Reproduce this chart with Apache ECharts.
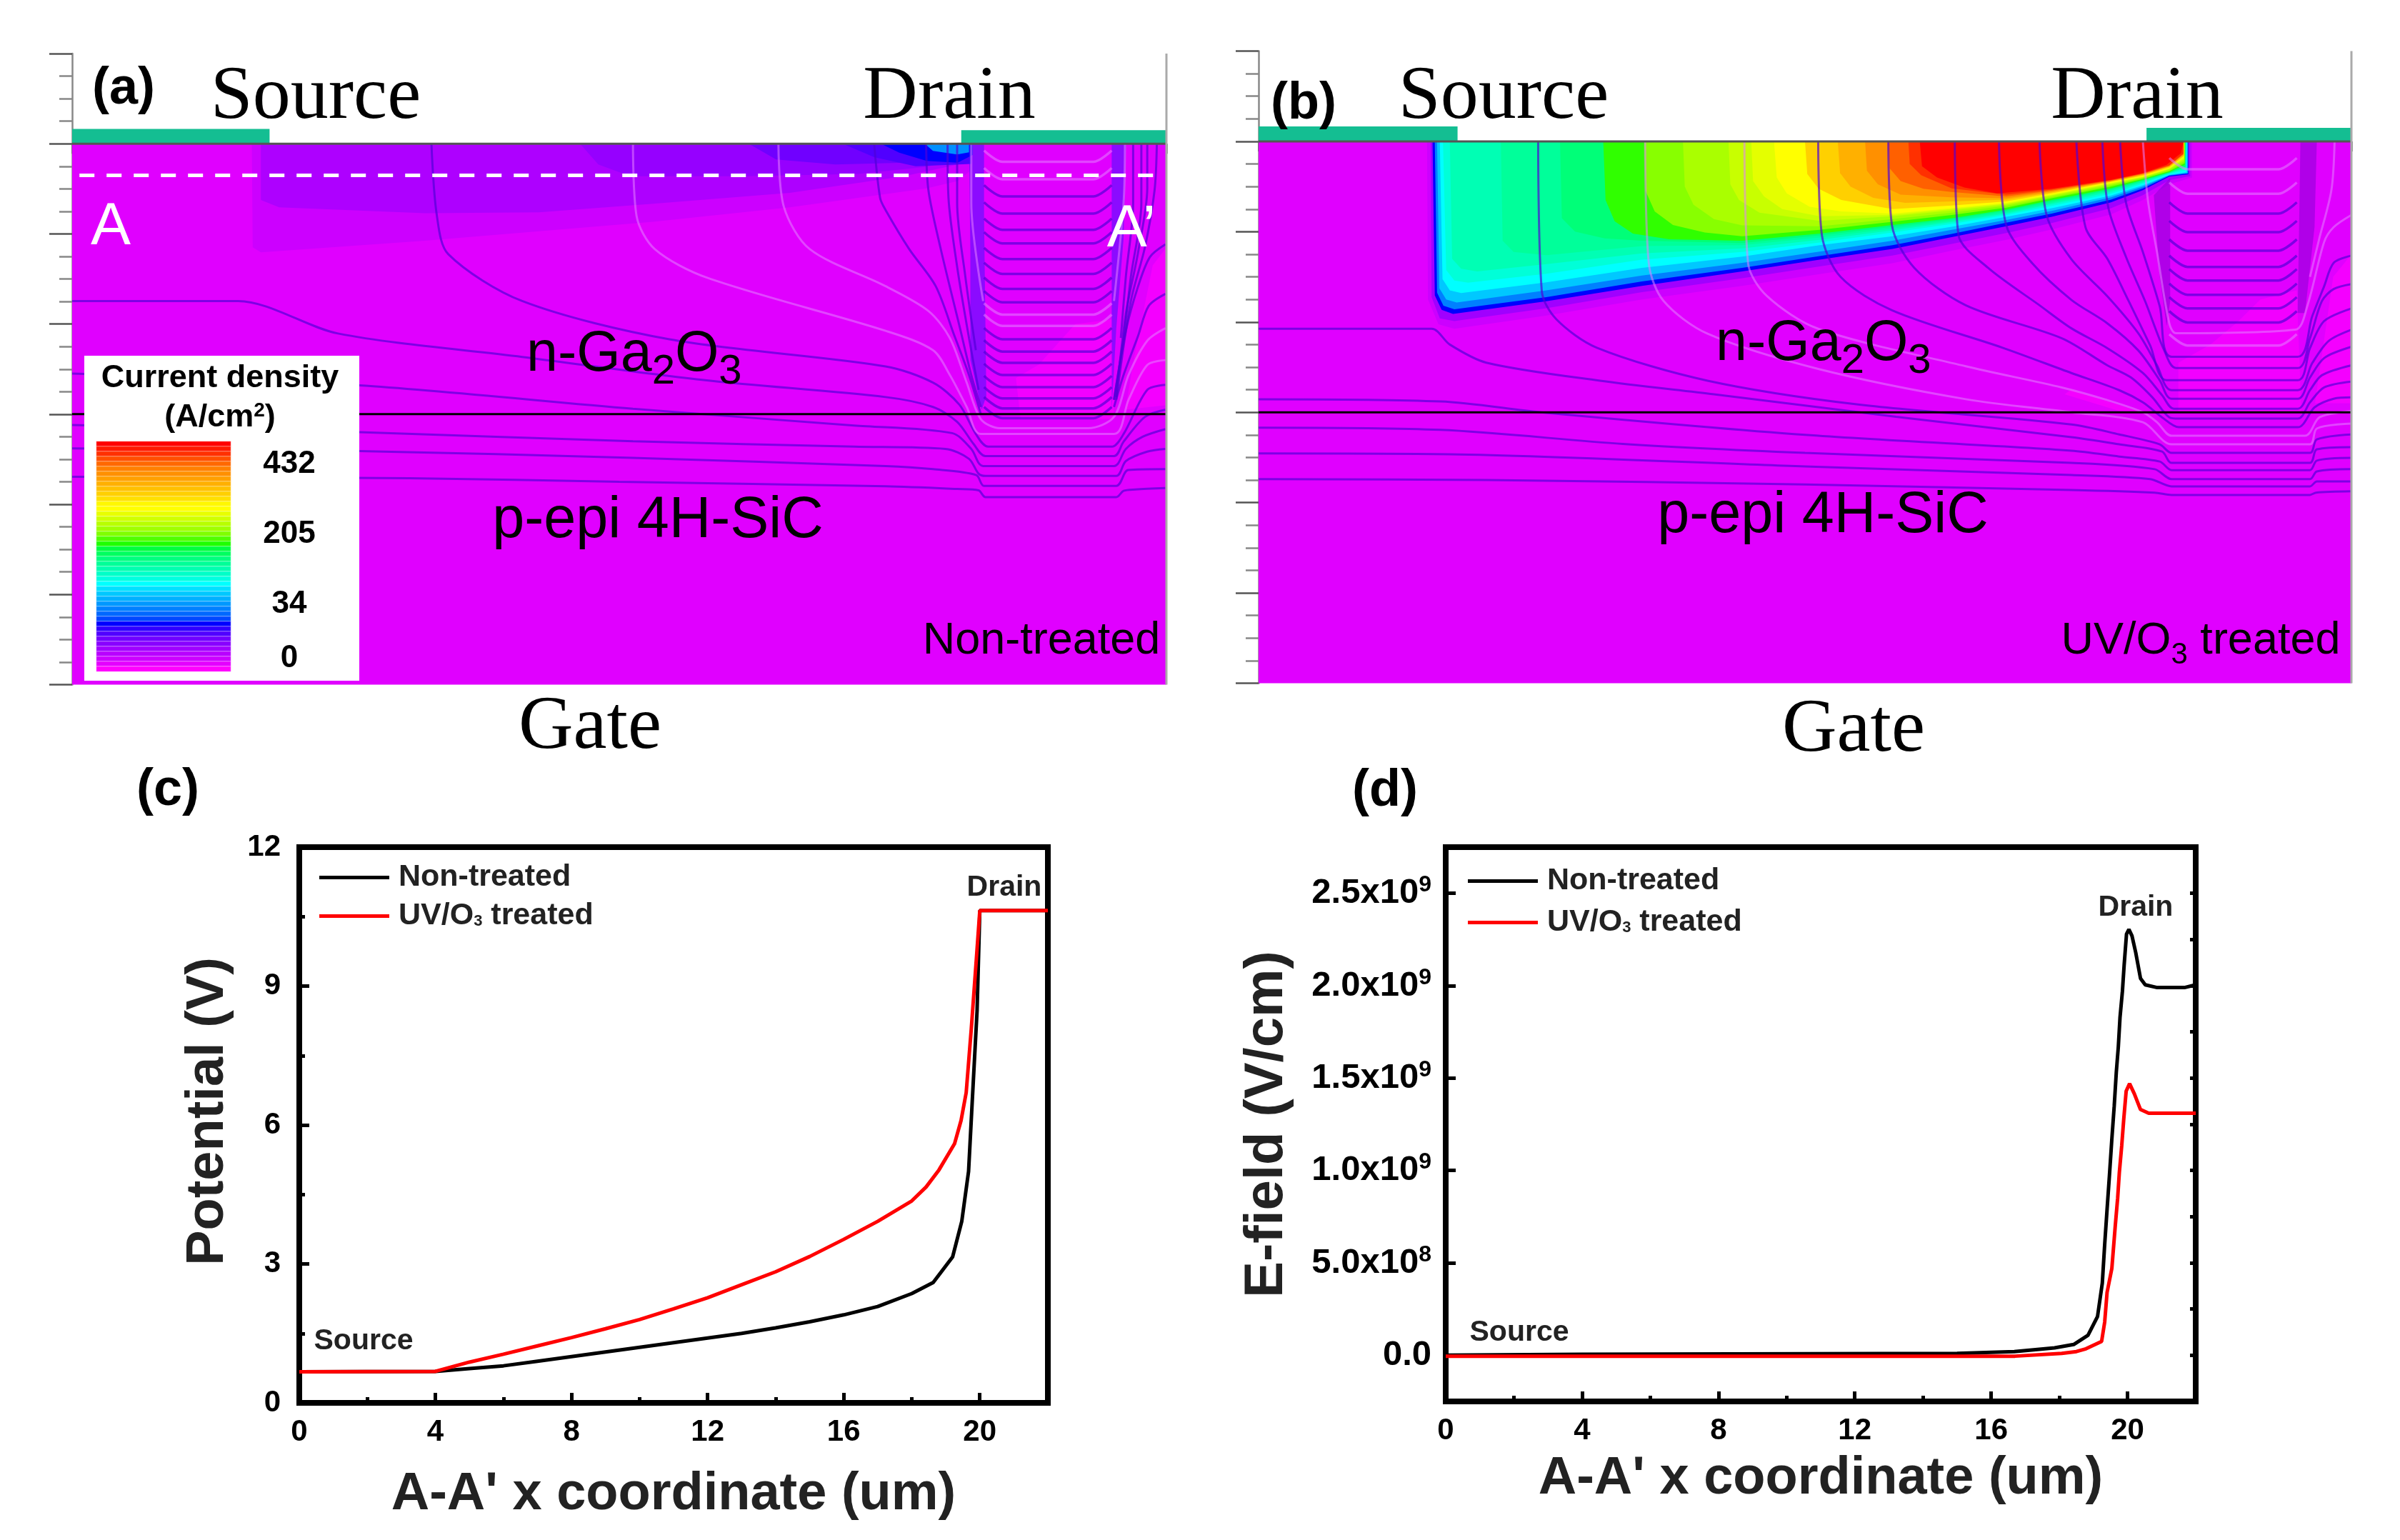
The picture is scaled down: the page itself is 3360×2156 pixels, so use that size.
<!DOCTYPE html>
<html><head><meta charset="utf-8">
<style>html,body{margin:0;padding:0;background:#fff}#c{width:3360px;height:2156px}</style>
<script src="https://cdn.jsdelivr.net/npm/echarts@6/dist/echarts.min.js"></script>
</head><body><div id="c"></div>
<script>
// ---------- line plots (c) potential, V
const potNonX=[0,4,5,6,7,8,9,10,11,12,13,14,15,16,17,18,18.63,19.2,19.47,19.67,19.78,19.92,20,22];
const potNonY=[.67,.68,.74,.8,.9,1.0,1.1,1.2,1.3,1.4,1.5,1.62,1.75,1.9,2.08,2.36,2.6,3.15,3.92,5.0,6.54,8.47,10.63,10.63];
const potUvX=[0,4,5,6,7,8,9,10,11,12,13,14,15,16,17,18,18.42,18.8,19.26,19.45,19.6,19.75,19.9,20,22];
const potUvY=[.67,.68,.88,1.05,1.23,1.41,1.6,1.8,2.03,2.27,2.55,2.83,3.16,3.53,3.92,4.36,4.66,5.03,5.6,6.1,6.7,8.08,9.6,10.63,10.63];
// ---------- line plots (d) E-field, V/cm
const efNonX=[0,4,15,16.68,17.86,18.42,18.84,19.12,19.26,19.33,19.4,19.47,19.54,19.61,19.67,19.73,19.78,19.85,19.9,19.97,20.04,20.13,20.24,20.38,20.52,20.87,21.67,22];
const efNonY=[0,.005,.01,.02,.04,.058,.108,.21,.39,.6,.79,.975,1.17,1.35,1.53,1.67,1.83,1.97,2.11,2.28,2.305,2.27,2.18,2.04,2.005,1.99,1.99,2.005];
const efUvX=[0,16.7,18.07,18.5,18.78,19.24,19.33,19.4,19.54,19.64,19.71,19.76,19.83,19.89,19.96,20.06,20.2,20.38,20.62,22];
const efUvY=[-.005,-.005,.01,.02,.035,.075,.18,.34,.47,.7,.85,.99,1.135,1.28,1.43,1.47,1.415,1.33,1.31,1.31];
const efMajor=[0,.5,1,1.5,2,2.5];
const efLabels=['0.0','5.0x10{s|8}','1.0x10{s|9}','1.5x10{s|9}','2.0x10{s|9}','2.5x10{s|9}'];
const seriesNames=['Non-treated','UV/O3 treated'];
const barColors=['#FF0000','#FF1A00','#FF3000','#FF5000','#FF6800','#FF8000','#FF9000','#FFA000','#FFB000','#FFC000','#FFD000','#FFE000','#FFF800','#FFFF00','#E8FF00','#D0FF00','#B8FF00','#A0FF00','#80FF00','#50FF00','#20FF00','#00FF40','#00FF60','#00FF80','#00FF98','#00FFB0','#00FFC8','#00FFE0','#00FFFF','#00E0FF','#00C8FF','#00B0FF','#0098FF','#0080FF','#0068FF','#0048FF','#0000FF','#3000FF','#5000FF','#7000FF','#8800FF','#A000FF','#B800FF','#CC00FF','#E400FF','#FF00FF'];
const MAG='#E000FF', TEAL='#14BE92';
// ---------- field (a): regions in device coordinates [x, depth]
const fieldA=[
 [MAG,[[0,0],[24,0],[24,12],[0,12]]],
 ['#CC00FF',[[3.94,0],[3.96,2.3],[4.14,2.41],[7.74,2.15],[12.74,1.73],[15.74,1.41],[18.74,.99],[19.42,.83],[19.7,.6],[19.7,0]]],
 ['#AE00FF',[[4.14,0],[4.14,1.25],[4.54,1.41],[7.74,1.54],[10.24,1.52],[12.74,1.33],[15.74,1.09],[18.24,.72],[19.7,.4],[19.7,0]]],
 ['#9600FF',[[11.14,0],[11.54,.46],[12.24,.72],[14.74,.72],[17.24,.67],[18.74,.51],[19.7,.3],[19.7,0]]],
 ['#7000FF',[[14.84,0],[15.44,.35],[16.74,.46],[18.74,.41],[19.7,.28],[19.7,0]]],
 ['#5000FF',[[16.9,0],[17.6,.3],[18.5,.5],[19.72,.45],[19.72,0]]],
 ['#0000FF',[[17.74,0],[18.14,.2],[18.74,.38],[19.42,.42],[19.75,.25],[19.75,0]]],
 ['#0090FF',[[18.7,0],[18.88,.16],[19.41,.24],[19.67,.19],[19.67,0]]],
 ['#F200FF',[[22,4.0],[22.8,3.9],[22.85,6.1],[20.8,6.1],[20.7,5.2],[21.2,4.9]]],
 ['#F400FF',[[23.1,5.9],[23.3,4.7],[23.7,2.7],[24,2.3],[24,5.8]]],
 ['rgba(70,20,255,.55)',[[19.67,0],[20,0],[20,1.6],[20.05,5.6],[19.95,5.9],[19.7,4.8],[19.7,2.4]]],
 ['rgba(70,20,255,.55)',[[22.8,0],[23.11,0],[23.06,2.1],[22.9,4.1],[22.8,5.9]]],
 [TEAL,[[0,-.33],[4.33,-.33],[4.33,0],[0,0]]],
 [TEAL,[[19.5,-.3],[24,-.3],[24,0],[19.5,0]]]
];
// ---------- field (b)
const fieldB=[
 [MAG,[[0,0],[24,0],[24,12],[0,12]]],
 ['#CC00FF',[[3.7,0],[3.72,3.5],[3.95,4.05],[4.3,4.15],[6.3,3.86],[8.42,3.5],[10.62,3.2],[12.32,2.94],[13.92,2.7],[15.22,2.42],[16.42,2.18],[17.42,1.95],[18.72,1.62],[19.42,1.3],[20,.95],[20.5,.8],[20.5,0]]],
 ['#A000FF',[[3.78,0],[3.8,3.45],[3.98,3.92],[4.3,3.98],[6.3,3.7],[8.42,3.34],[10.62,3.03],[12.32,2.77],[13.92,2.53],[15.22,2.27],[16.42,2.03],[17.42,1.81],[18.72,1.48],[19.42,1.19],[20,.86],[20.46,.77],[20.46,0]]],
 ['#0000FF',[[3.82,0],[3.87,3.41],[4.02,3.73],[4.27,3.82],[6.32,3.54],[8.42,3.2],[10.62,2.88],[12.32,2.62],[13.92,2.38],[15.22,2.12],[16.42,1.88],[17.42,1.67],[18.72,1.35],[19.42,1.08],[20,.78],[20.42,.73],[20.42,0]]],
 ['#0080FF',[[3.87,0],[3.92,3.35],[4.06,3.64],[4.3,3.72],[6.32,3.45],[8.42,3.1],[10.62,2.8],[12.32,2.54],[13.92,2.3],[15.22,2.05],[16.42,1.8],[17.42,1.6],[18.72,1.29],[19.42,1.04],[20,.76],[20.41,.71],[20.41,0]]],
 ['#00C8FF',[[3.92,0],[3.97,3.25],[4.12,3.5],[4.35,3.57],[6.32,3.3],[8.42,2.97],[10.62,2.69],[12.32,2.44],[13.92,2.2],[15.22,1.96],[16.42,1.74],[17.42,1.54],[18.72,1.24],[19.42,1.0],[20,.75],[20.4,.7],[20.4,0]]],
 ['#00FFFF',[[3.98,0],[4.04,3.05],[4.2,3.3],[4.45,3.36],[6.32,3.12],[8.42,2.8],[10.62,2.55],[12.32,2.3],[13.92,2.1],[15.22,1.89],[16.42,1.67],[17.42,1.48],[18.72,1.2],[19.42,.97],[20,.74],[20.38,.68],[20.38,0]]],
 ['#00FFD8',[[4.05,0],[4.12,2.85],[4.3,3.08],[4.6,3.13],[6.32,2.93],[8.42,2.62],[10.62,2.45],[12.32,2.24],[13.92,2.02],[15.22,1.83],[16.42,1.63],[17.42,1.43],[18.72,1.16],[19.42,.94],[20,.72],[20.37,.64],[20.37,0]]],
 ['#00FFB4',[[4.2,0],[4.25,2.6],[4.45,2.82],[4.8,2.88],[6.32,2.72],[8.42,2.48],[10.62,2.37],[12.32,2.18],[13.92,1.97],[15.22,1.79],[16.42,1.6],[17.42,1.39],[18.72,1.12],[19.42,.91],[20,.71],[20.36,.6],[20.36,0]]],
 ['#00FF9A',[[5.32,0],[5.36,2.2],[5.6,2.45],[6.32,2.52],[8.42,2.32],[10.62,2.3],[12.32,2.13],[13.92,1.93],[15.22,1.76],[16.42,1.57],[17.42,1.36],[18.72,1.09],[19.42,.89],[20,.7],[20.36,.58],[20.36,0]]],
 ['#00FF78',[[6.62,0],[6.66,1.7],[6.95,2.0],[7.6,2.15],[8.42,2.2],[10.62,2.25],[12.32,2.08],[13.92,1.89],[15.22,1.73],[16.42,1.54],[17.42,1.33],[18.72,1.07],[19.42,.87],[20,.69],[20.36,.56],[20.36,0]]],
 ['#30FF00',[[7.57,0],[7.62,1.3],[7.82,1.77],[8.22,2.04],[9.02,2.17],[10.62,2.2],[12.32,2.04],[13.92,1.85],[15.22,1.7],[16.42,1.51],[17.42,1.3],[18.72,1.04],[19.42,.85],[20,.68],[20.34,.52],[20.35,0]]],
 ['#88FF00',[[8.47,0],[8.5,1.1],[8.7,1.55],[9.1,1.85],[9.8,2.02],[10.62,2.1],[12.32,1.96],[13.92,1.78],[15.22,1.63],[16.42,1.47],[17.42,1.26],[18.72,1.0],[19.42,.83],[20,.66],[20.34,.48],[20.34,0]]],
 ['#AAFF00',[[9.32,0],[9.36,1.0],[9.55,1.4],[10,1.72],[10.62,1.86],[12.32,1.88],[13.92,1.72],[15.22,1.58],[16.42,1.43],[17.42,1.23],[18.72,.97],[19.42,.81],[20,.64],[20.33,.44],[20.33,0]]],
 ['#C8FF00',[[10.32,0],[10.36,.95],[10.55,1.3],[11,1.58],[12.32,1.76],[13.92,1.66],[15.22,1.53],[16.42,1.4],[17.42,1.2],[18.72,.95],[19.42,.8],[20,.62],[20.33,.4],[20.33,0]]],
 ['#E4FF00',[[10.82,0],[10.86,.88],[11.1,1.22],[11.5,1.5],[12.32,1.66],[13.92,1.63],[15.22,1.5],[16.42,1.38],[17.42,1.19],[18.72,.93],[19.42,.79],[20,.61],[20.32,.38],[20.32,0]]],
 ['#FFFF00',[[11.32,0],[11.38,.8],[11.6,1.15],[12.1,1.45],[12.8,1.55],[13.92,1.6],[15.22,1.48],[16.42,1.36],[17.42,1.17],[18.72,.92],[19.42,.78],[20,.6],[20.32,.35],[20.32,0]]],
 ['#FFD000',[[12.0,0],[12.05,.72],[12.3,1.05],[12.8,1.3],[13.92,1.5],[15.22,1.42],[16.42,1.33],[17.42,1.15],[18.72,.9],[19.42,.76],[20,.58],[20.32,.33],[20.32,0]]],
 ['#FFB000',[[12.72,0],[12.77,.7],[13,1.0],[13.5,1.25],[14.2,1.36],[15.22,1.33],[16.42,1.29],[17.42,1.13],[18.72,.89],[19.42,.74],[20,.56],[20.32,.31],[20.32,0]]],
 ['#FF9000',[[13.32,0],[13.36,.65],[13.6,.95],[14.1,1.18],[15.22,1.24],[16.42,1.26],[17.42,1.11],[18.72,.88],[19.42,.73],[20,.55],[20.31,.29],[20.31,0]]],
 ['#FF6000',[[13.82,0],[13.86,.6],[14.1,.88],[14.6,1.05],[15.22,1.12],[16.42,1.22],[17.42,1.09],[18.72,.87],[19.42,.72],[20,.54],[20.31,.28],[20.31,0]]],
 ['#FF3000',[[14.27,0],[14.3,.5],[14.55,.75],[15.22,1.04],[16.42,1.18],[17.42,1.07],[18.72,.86],[19.42,.71],[20,.53],[20.31,.27],[20.31,0]]],
 ['#FF0000',[[14.52,0],[14.57,.55],[14.9,.8],[15.5,1.02],[16.22,1.15],[17.42,1.05],[18.72,.85],[19.42,.7],[19.94,.52],[20.26,.26],[20.31,0]]],
 ['#F200FF',[[22,3.5],[22.8,3.3],[22.9,6.0],[20.2,6.0],[20.2,4.9],[20.9,4.5],[21.5,4.0]]],
 ['#F400FF',[[23.2,5.8],[23.6,3],[24,2.5],[24,5.8]]],
 ['#F400FF',[[17.85,5.5],[19.4,6.0],[19,6.0],[17.7,5.6]]],
 ['rgba(110,0,200,.42)',[[19.66,1.19],[20.02,.81],[20.02,3.54],[19.94,4.09],[19.79,3.0]]],
 ['rgba(110,0,200,.42)',[[22.88,0],[23.24,0],[23.19,1.9],[22.98,3.8],[22.82,3.8]]],
 [TEAL,[[0,-.33],[4.37,-.33],[4.37,0],[0,0]]],
 [TEAL,[[19.5,-.3],[24,-.3],[24,0],[19.5,0]]]
];
// ---------- contour lines of (a)
const darkA=[
 [[17.59,0],[17.72,1.2],[17.84,1.47],[18.36,2.34],[18.94,3.16],[19.35,4.26],[19.67,5.13],[19.93,6.0]],
 [[18.73,0],[18.78,1.03],[19.04,2.29],[19.46,4.04],[19.72,5.13],[19.93,5.84]],
 [[19.2,0],[19.22,1.2],[19.41,2.73],[19.67,4.31],[19.88,5.46]],
 [[19.41,0],[19.41,1.31],[19.59,2.95],[19.82,4.58]],
 [[23.27,0],[23.27,1.31],[23.11,2.95],[23,4.31]],
 [[23.45,0],[23.45,1.31],[23.22,2.95],[23.06,4.31],[22.85,5.68]],
 [[23.58,0],[23.58,.98],[23.38,2.4],[23.11,3.77],[22.9,5.62]],
 [[23.79,0],[23.74,1.03],[23.53,2.29],[23.22,3.49],[22.9,5.68]],
 [[23.98,2.23],[23.64,2.51],[23.38,3.16],[23.11,4.15],[22.85,5.68]],
 [[23.98,3.33],[23.61,3.6],[23.38,4.26],[23.06,5.13],[22.85,5.84]],
 [[0,7.39],[7.4,7.42],[12,7.5],[17.84,7.6],[19.41,7.66],[19.88,7.69],[20.03,7.84],[22.9,7.84],[23.06,7.7],[23.32,7.67],[23.98,7.64]],
 [[0,6.76],[6.3,6.82],[12.3,6.97],[17.84,7.15],[18.88,7.22],[19.83,7.35],[20,7.59],[22.9,7.59],[23.16,7.24],[23.98,7.22]],
 [[0,6.24],[6.3,6.4],[12.3,6.6],[17.15,6.72],[19.15,6.77],[19.67,6.99],[19.88,7.32],[20.03,7.37],[22.9,7.37],[23.11,7.04],[23.58,6.83],[23.98,6.77]],
 [[0,5.1],[6.3,5.36],[12.3,5.88],[17.15,6.25],[19.3,6.42],[19.72,6.77],[19.98,7.15],[22.85,7.15],[23.11,6.77],[23.48,6.5],[23.98,6.33]],
 [[0,3.49],[3.64,3.49],[5.83,4.21],[9.87,4.73],[13.92,5.25],[17.84,5.62],[18.88,5.84],[19.41,6.17],[19.77,6.66],[20.03,6.93],[22.85,6.93],[23.06,6.61],[23.53,6.06],[23.98,5.9]],
 [[7.88,0],[8,1.6],[8.25,2.45],[9.87,3.49],[13.1,4.34],[17.84,4.94],[18.88,5.3],[19.46,5.79],[19.82,6.44],[20.09,6.72],[22.8,6.72],[23.06,6.44],[23.58,5.46],[23.98,5.35]]
];
const paleA=[
 [[12.3,0],[12.38,1.61],[12.78,2.34],[13.92,2.97],[17.84,4.15],[18.88,4.58],[19.25,5.13],[19.62,5.84],[19.93,6.44],[22.85,6.44],[23.17,5.68],[23.58,4.91],[23.98,4.8]],
 [[15.49,0],[15.61,1.4],[16.18,2.34],[17.84,3.16],[18.78,3.71],[19.25,4.31],[19.62,5.3],[19.93,6.11],[20.35,6.31],[22.28,6.31],[22.85,6.06],[23.17,5.13],[23.58,4.37],[23.98,4.09]],
 [[19.72,0],[19.72,1.31],[19.98,3.49]],
 [[23.09,0],[23.06,1.31],[22.85,3.49]]
];
const wellDarkA=[1.17,1.55,1.91,2.21,2.56,2.89,3.22,3.52,4.34,4.61,4.86,5.13,5.40,5.65,5.87,6.09];
const wellPaleA=[.40,.79,3.79,4.04];
// ---------- contour lines of (b)
const darkB=[
 [[0,7.48],[5,7.5],[12,7.6],[17.85,7.72],[19.68,7.78],[20.05,7.83],[23.09,7.83],[23.22,7.78],[24,7.75]],
 [[0,6.91],[4.2,6.93],[12,7.2],[17.85,7.39],[19.58,7.48],[20.05,7.64],[23.09,7.64],[23.24,7.53],[24,7.53]],
 [[0,6.34],[4,6.39],[8,6.7],[12,6.9],[17.85,7.12],[19.68,7.26],[20.05,7.48],[23.09,7.48],[23.24,7.31],[24,7.26]],
 [[0,5.71],[4,5.76],[6.2,6],[12,6.5],[17.85,6.85],[18.9,6.98],[19.79,7.09],[20.05,7.28],[23.09,7.28],[23.24,7.07],[24,7.01]],
 [[0,4.15],[3.8,4.15],[4.2,4.5],[5,4.9],[7.5,5.3],[10,5.6],[14,6.1],[17.85,6.55],[18.9,6.71],[19.84,6.87],[20.05,7.12],[23.09,7.12],[23.24,6.82],[24,6.77]],
 [[6.14,0],[6.22,3.32],[6.54,3.94],[7.43,4.57],[9.86,5.3],[13.1,5.82],[17.85,6.27],[18.9,6.49],[19.79,6.71],[20.05,6.9],[23.09,6.9],[23.24,6.6],[24,6.49]],
 [[12.29,0],[12.37,2.07],[12.78,3],[13.91,3.74],[16.34,4.57],[17.85,5.13],[18.9,5.51],[19.42,5.78],[19.84,6.11],[20.21,6.33],[22.82,6.33],[23.19,5.89],[23.61,5.7],[24,5.67]],
 [[13.83,0],[13.91,1.86],[14.4,2.8],[15.53,3.63],[17.64,4.36],[18.64,4.96],[19.16,5.23],[19.63,5.67],[20,6.11],[20.21,6.14],[22.82,6.14],[23.09,5.78],[23.4,5.45],[24,5.32]],
 [[15.29,0],[15.37,2.07],[16.02,2.8],[17.15,3.63],[17.85,4.14],[18.64,4.58],[19.42,5.13],[19.84,5.62],[20.1,5.92],[22.82,5.92],[23.09,5.51],[23.35,5.18],[24,4.96]],
 [[16.26,0],[16.42,1.86],[16.99,2.7],[17.85,3.51],[18.64,4.03],[19.32,4.63],[19.79,5.29],[20.05,5.7],[22.82,5.7],[23.09,5.23],[23.4,4.8],[24,4.55]],
 [[17.15,0],[17.31,1.65],[17.85,2.61],[18.64,3.43],[19.32,4.25],[19.73,4.96],[20.05,5.51],[22.82,5.51],[23.14,4.91],[23.5,4.42],[24,4.17]],
 [[17.96,0],[18.16,1.9],[18.64,2.6],[19.11,3.54],[19.58,4.52],[19.94,5.29],[22.82,5.29],[23.09,4.58],[23.4,3.98],[24,3.7]],
 [[18.53,0],[18.66,1.46],[19.05,2.56],[19.47,3.54],[19.89,4.63],[20.15,5.02],[22.82,5.02],[23.09,4.36],[23.35,3.54],[23.61,3.27],[24,3.16]],
 [[18.92,0],[19.05,1.36],[19.42,2.45],[19.79,3.65],[20.05,4.77],[22.82,4.77],[23.14,3.87],[23.4,3.21],[23.61,2.69],[24,2.53]]
];
const paleB=[
 [[8.49,0],[8.57,2.7],[8.89,3.53],[9.86,4.26],[12.29,5.04],[15.53,5.71],[17.85,6],[19.42,6.22],[20.05,6.71],[23.09,6.71],[23.24,6.36],[24,6.25]],
 [[10.67,0],[10.75,2.7],[11.16,3.42],[12.29,4.15],[15.53,4.98],[17.64,5.45],[18.64,5.73],[19.42,6],[19.73,6.22],[20.05,6.52],[22.98,6.52],[23.3,6.11],[24,5.97]],
 [[19.42,0],[19.53,1.3],[19.73,2.45],[20,4.03],[20.15,4.25],[22.77,4.17],[23.03,3.65],[23.4,2.23],[23.61,1.9],[24,1.63]],
 [[23.63,0],[23.56,1.08],[23.29,2.17],[23.09,3]]
];
const wellDarkB=[1.6,2.01,2.42,2.78,3.08,3.4,3.7,4.01];
const wellPaleB=[.62,1.16,4.52];
const wellX=[20.0,20.4,22.4,22.8];
const wellRise=[.25,0,0,.25];
const dashA=[[.16,.7],[23.8,.7]];
const topLine=[[0,0],[24,0]], junction=[[0,6],[24,6]], rightEdge=[[24,-2],[24,12]];

// ---------- helpers
const SANS='"Liberation Sans",Arial,sans-serif', SERIF='"Liberation Serif","Times New Roman",serif';
const zip=(a,b,k)=>a.map((v,i)=>[v,b[i]*(k||1)]);
function poly(grid,regions,z){return {type:'custom',xAxisIndex:grid,yAxisIndex:grid,z,silent:true,clip:false,
  data:regions.map((r,i)=>[i,0]),encode:{x:0,y:1},
  renderItem:(p,api)=>({type:'polygon',shape:{points:regions[p.dataIndex][1].map(q=>api.coord(q))},style:{fill:regions[p.dataIndex][0]}})};}
function ln(grid,pts,color,width,extra){return Object.assign({type:'line',xAxisIndex:grid,yAxisIndex:grid,data:pts,showSymbol:false,symbol:'none',silent:true,animation:false,z:3,
  lineStyle:{color,width,opacity:1}},extra||{});}
const DARK='rgba(80,0,215,.68)', PALE='rgba(228,125,255,.55)';
function panel(grid,field,dark,pale,wd,wp){
  const out=[poly(grid,field,1)];
  dark.forEach(l=>out.push(ln(grid,l,DARK,3,{smooth:.3})));
  pale.forEach(l=>out.push(ln(grid,l,PALE,3,{smooth:.3})));
  const well=d=>wellX.map((x,i)=>[x,d-wellRise[i]]);
  wd.forEach(d=>out.push(ln(grid,well(d),DARK,3.5,{smooth:.3})));
  wp.forEach(d=>out.push(ln(grid,well(d),PALE,3.5,{smooth:.3})));
  out.push(ln(grid,junction,'#000',3,{z:4}));
  out.push(ln(grid,topLine,'#555',3,{z:4}));
  out.push(ln(grid,rightEdge,'#aaa',3,{z:4}));
  return out;
}
const deviceX=g=>({gridIndex:g,type:'value',min:0,max:24,interval:2,axisLine:{show:false},splitLine:{show:false},axisLabel:{show:false},
  axisTick:{show:true,length:14,lineStyle:{color:'#666',width:2.5}},minorTick:{show:true,splitNumber:2,length:9,lineStyle:{color:'#888',width:2.5}},minorSplitLine:{show:false}});
const deviceY=g=>({gridIndex:g,type:'value',inverse:true,min:-2,max:12,interval:2,axisLine:{show:true,lineStyle:{color:'#888',width:2.5}},splitLine:{show:false},axisLabel:{show:false},
  axisTick:{show:true,length:32,lineStyle:{color:'#555',width:2.5}},minorTick:{show:true,splitNumber:4,length:18,lineStyle:{color:'#888',width:2.5}}});
const lbl={color:'#000',fontFamily:SANS,fontWeight:'bold',fontSize:42};
const tick={show:true,inside:true,length:14,lineStyle:{color:'#000',width:5}};
const minor=(n)=>({show:true,splitNumber:n,length:8,lineStyle:{color:'#000',width:5}});
const nameSt={color:'#222',fontFamily:SANS,fontWeight:'bold',fontSize:74};
const xy=(gap)=>({type:'value',min:0,max:22,interval:4,axisLine:{show:false,onZero:false},splitLine:{show:false},axisTick:tick,minorTick:minor(2),
  axisLabel:Object.assign({margin:20,hideOverlap:false,formatter:v=>v===22?'':v},lbl),showMaxLabel:false,
  name:"A-A' x coordinate (um)",nameLocation:'center',nameGap:gap,nameTextStyle:nameSt});
const legendSt=(left,top,gap)=>({orient:'vertical',left,top,padding:0,icon:'rect',itemWidth:98,itemHeight:5,itemGap:gap,data:seriesNames,
  textStyle:{color:'#222',fontFamily:SANS,fontWeight:'bold',fontSize:43,padding:[0,0,0,8],rich:{n:{color:'#222',fontFamily:SANS,fontWeight:'bold',fontSize:43},s:{color:'#222',fontFamily:SANS,fontWeight:'bold',fontSize:22,padding:[14,0,0,0]}}},
  formatter:n=>n==='UV/O3 treated'?'{n|UV/O}{s|3}{n| treated}':'{n|'+n+'}'});
// text labels
function T(x,y,text,size,font,extra){const e=Object.assign({},extra||{});const color=e.color||'#000';const weight=e.weight||'normal';
  const rich={};if(e.sub){rich.sub={fontSize:e.sub,fontFamily:font,fontWeight:weight,fill:color,padding:[size*.62,0,0,0]};}
  if(e.sup){rich.sup={fontSize:e.sup,fontFamily:font,fontWeight:weight,fill:color,padding:[0,0,size*.45,0]};}
  return {type:'text',x,y,z:60,silent:true,style:{text,fontSize:size,fontFamily:font,fontWeight:weight,fill:color,textAlign:e.align||'center',textVerticalAlign:'middle',rich}};}
const B={weight:'bold'};
const gfx=[
 {type:'rect',z:40,silent:true,shape:{x:118,y:498,width:385,height:455},style:{fill:'#fff'}},
 T(173,125,'(a)',72,SANS,B),T(442,137,'Source',106,SERIF),T(1329,137,'Drain',106,SERIF),T(826,1019,'Gate',106,SERIF),
 T(1825,146,'(b)',72,SANS,B),T(2105,137,'Source',106,SERIF),T(2992,137,'Drain',106,SERIF),T(2595,1023,'Gate',106,SERIF),
 T(155,319,'A',84,SANS,{color:'#fff'}),T(1584,322,'A’',84,SANS,{color:'#fff'}),
 T(737,497,'n-Ga{sub|2}O{sub|3}',79,SANS,{align:'left',sub:58}),T(2402,482,'n-Ga{sub|2}O{sub|3}',79,SANS,{align:'left',sub:58}),
 T(921,730,'p-epi 4H-SiC',81,SANS),T(2552,723,'p-epi 4H-SiC',81,SANS),
 T(1458,898,'Non-treated',63,SANS),T(3081,898,'UV/O{sub|3} treated',63,SANS,{sub:42}),
 T(308,530,'Current density',45,SANS,B),T(308,585,'(A/cm{sup|2})',45,SANS,{weight:'bold',sup:28}),
 T(405,650,'432',44,SANS,B),T(405,748,'205',44,SANS,B),T(405,846,'34',44,SANS,B),T(405,922,'0',44,SANS,B),
 T(235,1107,'(c)',72,SANS,B),T(1939,1108,'(d)',72,SANS,B),
 T(509,1878,'Source',41,SANS,{weight:'bold',color:'#222'}),T(1406,1243,'Drain',41,SANS,{weight:'bold',color:'#222'}),
 T(2127,1866,'Source',41,SANS,{weight:'bold',color:'#222'}),T(2990,1271,'Drain',41,SANS,{weight:'bold',color:'#222'})
];
const series=[
 ...panel(0,fieldA,darkA,paleA,wellDarkA,wellPaleA),
 ln(0,dashA,'#fff',5,{z:5,lineStyle:{color:'#fff',width:5,type:[21,17]}}),
 ...panel(1,fieldB,darkB,paleB,wellDarkB,wellPaleB),
 {type:'heatmap',xAxisIndex:2,yAxisIndex:2,z:50,silent:true,progressive:0,
  data:barColors.map((c,i)=>({value:[0,i,1],itemStyle:{color:c,borderColor:'rgba(255,255,255,.45)',borderWidth:1}}))},
 {type:'line',name:seriesNames[0],xAxisIndex:3,yAxisIndex:3,data:zip(potNonX,potNonY),showSymbol:false,symbol:'none',lineStyle:{color:'#000',width:5},itemStyle:{color:'#000'},z:5,clip:false},
 {type:'line',name:seriesNames[1],xAxisIndex:3,yAxisIndex:3,data:zip(potUvX,potUvY),showSymbol:false,symbol:'none',lineStyle:{color:'#FF0000',width:5},itemStyle:{color:'#FF0000'},z:6,clip:false},
 {type:'line',name:seriesNames[0],xAxisIndex:4,yAxisIndex:4,data:zip(efNonX,efNonY,1e9),showSymbol:false,symbol:'none',lineStyle:{color:'#000',width:5},itemStyle:{color:'#000'},z:5,clip:false},
 {type:'line',name:seriesNames[1],xAxisIndex:4,yAxisIndex:4,data:zip(efUvX,efUvY,1e9),showSymbol:false,symbol:'none',lineStyle:{color:'#FF0000',width:5},itemStyle:{color:'#FF0000'},z:6,clip:false}
];
const efAxis={gridIndex:4,type:'value',min:-.25e9,max:2.75e9,interval:.25e9,splitLine:{show:false},axisLine:{show:false}};
const option={animation:false,backgroundColor:'#fff',textStyle:{fontFamily:SANS},
 grid:[
  {left:101,top:75,width:1532,height:883.5},
  {left:1762,top:71.5,width:1530,height:885},
  {left:135,top:618,width:188,height:322},
  {left:419,top:1186,width:1048,height:778,show:true,borderColor:'#000',borderWidth:8,backgroundColor:'transparent'},
  {left:2024,top:1186,width:1050,height:776,show:true,borderColor:'#000',borderWidth:8,backgroundColor:'transparent'}
 ],
 xAxis:[deviceX(0),deviceX(1),
  {gridIndex:2,type:'category',data:['c'],show:false},
  Object.assign(xy(92),{gridIndex:3}),
  Object.assign(xy(72),{gridIndex:4})],
 yAxis:[deviceY(0),deviceY(1),
  {gridIndex:2,type:'category',inverse:true,data:barColors.map((c,i)=>i),show:false},
  {gridIndex:3,type:'value',min:0,max:12,interval:3,axisLine:{show:false},splitLine:{show:false},axisTick:tick,minorTick:minor(2),
   axisLabel:Object.assign({margin:26},lbl),name:'Potential (V)',nameLocation:'center',nameGap:90,nameTextStyle:Object.assign({},nameSt,{fontSize:74,padding:[0,0,0,38]})},
  Object.assign({},efAxis,{axisTick:Object.assign({},tick,{customValues:efMajor.map(v=>v*1e9)}),
   axisLabel:Object.assign({margin:20,customValues:efMajor.map(v=>v*1e9),
     formatter:v=>efLabels[efMajor.indexOf(Math.round(v/1e8)/10)],
     rich:{s:{fontSize:32,fontFamily:SANS,fontWeight:'bold',color:'#000',padding:[0,0,22,0]}}},lbl,{fontSize:49}),
   name:'E-field (V/cm)',nameLocation:'center',nameGap:212,nameTextStyle:Object.assign({},nameSt,{fontSize:76})}),
  Object.assign({},efAxis,{axisTick:{show:true,inside:true,length:8,lineStyle:{color:'#000',width:5}},axisLabel:{show:false}})
 ],
 legend:[legendSt(447,1207,11),legendSt(2055,1212,15)],
 graphic:{elements:gfx},
 series
};
const chart=echarts.init(document.getElementById('c'),null,{width:3360,height:2156,renderer:'canvas'});
chart.setOption(option);
</script></body></html>
